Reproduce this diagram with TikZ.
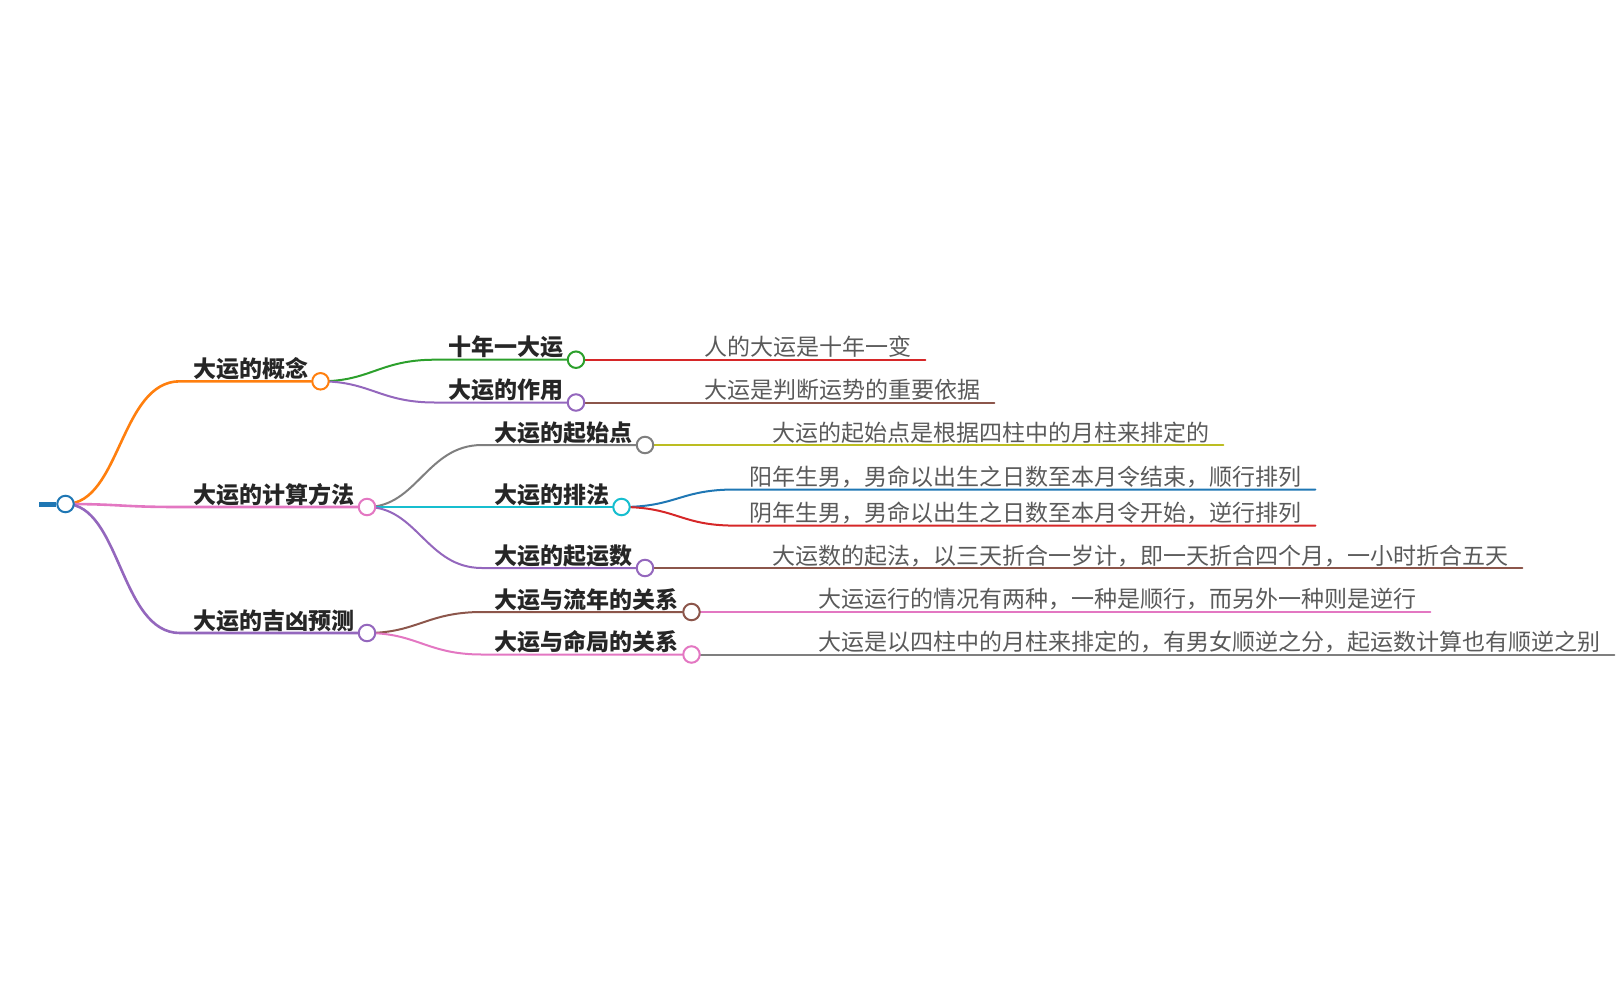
\documentclass[tikz,border=0pt]{standalone}
\usepackage{fontspec}
\newfontfamily\cjk{Noto Sans CJK SC}
\definecolor{cblue}{HTML}{1F77B4}
\definecolor{corange}{HTML}{FF7F0E}
\definecolor{cgreen}{HTML}{2CA02C}
\definecolor{cred}{HTML}{D62728}
\definecolor{cpurple}{HTML}{9467BD}
\definecolor{cbrown}{HTML}{8C564B}
\definecolor{cpink}{HTML}{E377C2}
\definecolor{cgray}{HTML}{7F7F7F}
\definecolor{colive}{HTML}{BCBD22}
\definecolor{ccyan}{HTML}{17BECF}
\definecolor{ctext}{HTML}{262626}
\definecolor{cleaf}{HTML}{5A5A5A}
\pgfdeclarelayer{edges}
\pgfsetlayers{edges,main}
\tikzset{
  dot/.style={circle, draw, fill=white, line width=2pt, minimum size=16.5pt, inner sep=0pt},
  lbl/.style={anchor=base west, inner sep=0pt, text=ctext, font=\cjk\bfseries\fontsize{23}{23}\selectfont},
  leaf/.style={anchor=base west, inner sep=0pt, text=cleaf, font=\cjk\fontsize{23}{23}\selectfont},
  eone/.style={line width=2.6pt, line cap=round},
  etwo/.style={line width=2pt, line cap=round},
}
\begin{document}
\begin{tikzpicture}[x=1pt,y=-1pt]
\useasboundingbox (0,0) rectangle (1616,986);
% root
\node[dot, draw=cblue] (root) at (65.5,504) {};
\coordinate (stub) at (39,504);
% level 1
\node[dot, draw=corange] (c1) at (320.5,381.3) {};
\node[dot, draw=cpink]   (c2) at (367,507) {};
\node[dot, draw=cpurple] (c3) at (367,633) {};
\node[lbl] (t1) at (193.5,377.4) {大运的概念};
\node[lbl] (t2) at (193.5,503.1) {大运的计算方法};
\node[lbl] (t3) at (193.5,629.1) {大运的吉凶预测};
\coordinate (j1) at (180,381.3);
\coordinate (j2) at (180,507);
\coordinate (j3) at (180,633);
% level 2
\node[dot, draw=cgreen]  (s1) at (576,359.7) {};
\node[dot, draw=cpurple] (s2) at (576,402.5) {};
\node[dot, draw=cgray]   (s3) at (645,445) {};
\node[dot, draw=ccyan]   (s4) at (621.5,507) {};
\node[dot, draw=cpurple] (s5) at (645,568) {};
\node[dot, draw=cbrown]  (s6) at (691.5,612) {};
\node[dot, draw=cpink]   (s7) at (691.5,654.5) {};
\node[lbl] (u1) at (448,355.8) {十年一大运};
\node[lbl] (u2) at (448,398.6) {大运的作用};
\node[lbl] (u3) at (494.7,441.1) {大运的起始点};
\node[lbl] (u4) at (494.7,503.1) {大运的排法};
\node[lbl] (u5) at (494.7,564.1) {大运的起运数};
\node[lbl] (u6) at (494.7,608.1) {大运与流年的关系};
\node[lbl] (u7) at (494.7,650.6) {大运与命局的关系};
\coordinate (k1) at (435,359.7);
\coordinate (k2) at (435,402.5);
\coordinate (k3) at (482,445);
\coordinate (k5) at (482,568);
\coordinate (k6) at (482,612);
\coordinate (k7) at (482,654.5);
% leaves
\node[leaf] (f1) at (704,355.7) {人的大运是十年一变};
\node[leaf] (f2) at (704,398.5) {大运是判断运势的重要依据};
\node[leaf] (f3) at (772,441) {大运的起始点是根据四柱中的月柱来排定的};
\node[leaf] (f4) at (749,485.5) {阳年生男，男命以出生之日数至本月令结束，顺行排列};
\node[leaf] (f5) at (749,521.6) {阴年生男，男命以出生之日数至本月令开始，逆行排列};
\node[leaf] (f6) at (772,564) {大运数的起法，以三天折合一岁计，即一天折合四个月，一小时折合五天};
\node[leaf] (f7) at (818,607.5) {大运运行的情况有两种，一种是顺行，而另外一种则是逆行};
\node[leaf] (f8) at (818,650.5) {大运是以四柱中的月柱来排定的，有男女顺逆之分，起运数计算也有顺逆之别};
\coordinate (m4) at (735,489.5);
\coordinate (m5) at (735,525.6);
\begin{pgfonlayer}{edges}
% root stub and level-1 edges
\draw[cblue, line width=5pt] (stub) -- (root);
\draw[eone, corange] (root.center) .. controls +(55,0) and +(-60,0) .. (j1) -- (c1);
\draw[eone, cpink]   (root.center) .. controls +(55,0) and +(-60,0) .. (j2) -- (c2);
\draw[eone, cpurple] (root.center) .. controls +(55,0) and +(-60,0) .. (j3) -- (c3);
% level-2 edges
\draw[etwo, cgreen]  (c1.center) .. controls +(50,0) and +(-55,0) .. (k1) -- (s1);
\draw[etwo, cpurple] (c1.center) .. controls +(50,0) and +(-55,0) .. (k2) -- (s2);
\draw[etwo, cgray]   (c2.center) .. controls +(50,0) and +(-55,0) .. (k3) -- (s3);
\draw[etwo, ccyan]   (c2.center) -- (s4);
\draw[etwo, cpurple] (c2.center) .. controls +(50,0) and +(-55,0) .. (k5) -- (s5);
\draw[etwo, cbrown]  (c3.center) .. controls +(50,0) and +(-55,0) .. (k6) -- (s6);
\draw[etwo, cpink]   (c3.center) .. controls +(50,0) and +(-55,0) .. (k7) -- (s7);
% leaf lines
\draw[etwo, cred]    (s1.center) -- (s1 -| f1.east) -- +(14,0);
\draw[etwo, cbrown]  (s2.center) -- (s2 -| f2.east) -- +(14,0);
\draw[etwo, colive]  (s3.center) -- (s3 -| f3.east) -- +(14,0);
\draw[etwo, cblue]   (s4.center) .. controls +(55,0) and +(-55,0) .. (m4) -- (m4 -| f4.east) -- +(14,0);
\draw[etwo, cred]    (s4.center) .. controls +(55,0) and +(-55,0) .. (m5) -- (m5 -| f5.east) -- +(14,0);
\draw[etwo, cbrown]  (s5.center) -- (s5 -| f6.east) -- +(14,0);
\draw[etwo, cpink]   (s6.center) -- (s6 -| f7.east) -- +(14,0);
\draw[etwo, cgray]   (s7.center) -- (s7 -| f8.east) -- +(14,0);
\end{pgfonlayer}
\end{tikzpicture}
\end{document}
